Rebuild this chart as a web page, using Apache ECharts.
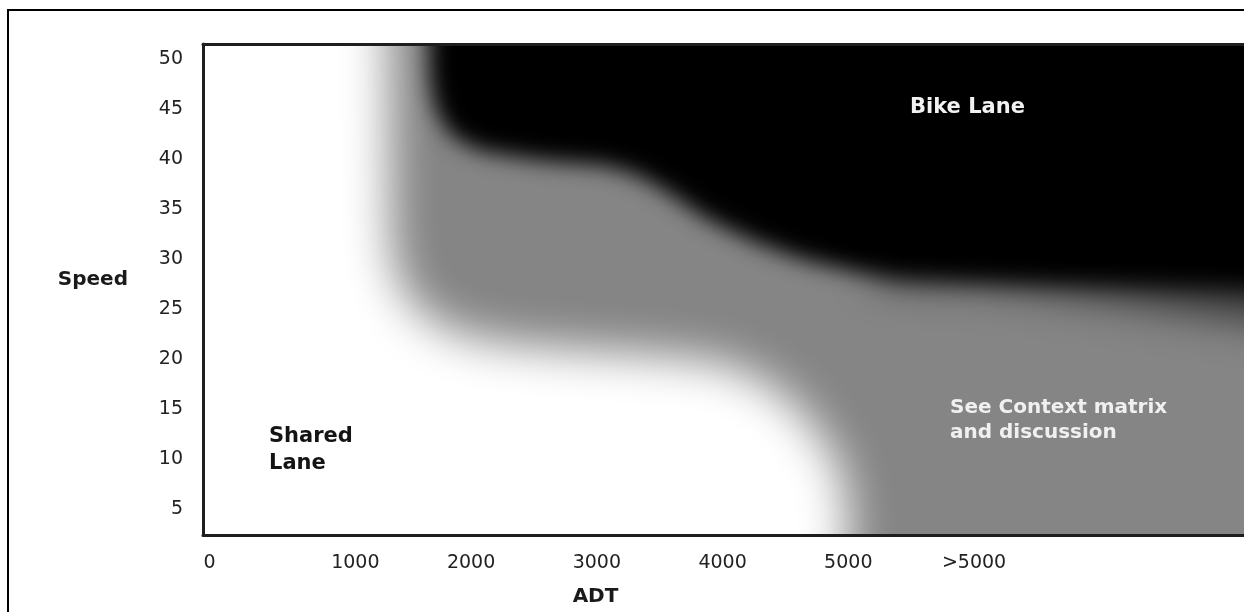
<!DOCTYPE html>
<html><head><meta charset="utf-8">
<script src="https://cdn.jsdelivr.net/npm/echarts@6/dist/echarts.min.js"></script>
<style>html,body{margin:0;padding:0;background:#fff}#c{width:1244px;height:612px}</style>
</head><body><div id="c"></div>
<script>
// Axis ticks
const xTickValues = [0, 1000, 2000, 3000, 4000, 5000, 6000];
const xTickLabels = ['0', '1000', '2000', '3000', '4000', '5000', '>5000'];
const yTickValues = [5, 10, 15, 20, 25, 30, 35, 40, 45, 50];

// Zone boundaries: [ADT, speed]
// mid-gray zone ("See Context matrix"): everything right/above the shared-lane edge
const grayZone = [
  [1351, 60], [1351, 51.5], [1367, 31.9], [1415, 28.4], [1510, 26.1], [1669, 24.1],
  [1906, 22.6], [2224, 21.7], [2699, 21.1], [3413, 20.5], [3969, 19.7], [4286, 18.1],
  [4540, 15.9], [4750, 12.9], [4927, 9.4], [4990, 5.9], [5006, 1.9], [5006, -5],
  [10000, -5], [10000, 60]
];
// black zone ("Bike Lane")
const blackZone = [
  [1669, 60], [1669, 51.5], [1677, 47.9], [1724, 44.9], [1843, 42.4], [2065, 40.9],
  [2541, 39.9], [3072, 39.3], [3334, 38.3], [3596, 36.4], [3866, 34.1], [4262, 31.7],
  [4659, 29.9], [5079, 28.7], [5396, 28.2], [6189, 27.8], [6982, 27.5], [8100, 27.1],
  [10000, 26.5], [10000, 60]
];
// darker fringe below the bike-lane zone on the right
const darkFringe = [
  [5237, 31.9], [8568, 31.9], [8568, 23.7], [8100, 24.1], [6982, 26.1], [6030, 27.5], [5237, 28.1]
];

const zoneColors = { gray: '#858585', black: '#000000', fringe: 'rgba(0,0,0,0.6)' };

const chart = echarts.init(document.getElementById('c'), null, { renderer: 'canvas', devicePixelRatio: 1 });
const OFF = 5000;
function zone(name, pts, color, blur) {
  return {
    type: 'custom', name: name, silent: true, clip: true, z: 2,
    data: [[0, 10]],
    renderItem: function (params, api) {
      return {
        type: 'polygon',
        x: OFF,
        shape: { points: pts.map(function (p) { return api.coord(p); }), smooth: 0.15 },
        style: { fill: '#000', shadowColor: color, shadowBlur: blur, shadowOffsetX: -OFF, shadowOffsetY: 0 }
      };
    }
  };
}
const FONT = 'DejaVu Sans';
const lineStyle = { color: '#1e1e1e', width: 3 };
const lblStyle = { fontFamily: FONT, fontSize: 19, color: '#222' };
chart.setOption({
  animation: false,
  backgroundColor: '#fff',
  grid: { left: 203, top: 44, right: -3, bottom: 77 },
  xAxis: [{
    type: 'value', min: -132, max: 8147, z: 10,
    axisLine: { show: true, onZero: false, lineStyle: lineStyle },
    axisTick: { show: false }, splitLine: { show: false },
    axisLabel: {
      customValues: xTickValues, margin: 19,
      color: '#222', fontFamily: FONT, fontSize: 19,
      rich: {
        l: Object.assign({ padding: [0, 20, 0, 0] }, lblStyle),
        r: Object.assign({ padding: [0, 0, 0, 20] }, lblStyle),
        n: lblStyle
      },
      formatter: function (v) {
        const i = xTickValues.indexOf(v);
        if (i < 0) return '';
        const key = i === 0 ? 'l' : (i === 1 ? 'r' : 'n');
        return '{' + key + '|' + xTickLabels[i] + '}';
      }
    },
    name: 'ADT', nameLocation: 'middle', nameGap: 52,
    nameTextStyle: { fontFamily: FONT, fontWeight: 'bold', fontSize: 20, color: '#1a1a1a', padding: [0, 256, 0, 0] }
  }, {
    type: 'value', position: 'top', min: -132, max: 8147, z: 10,
    axisLine: { show: true, onZero: false, lineStyle: lineStyle },
    axisTick: { show: false }, axisLabel: { show: false }, splitLine: { show: false }
  }],
  yAxis: {
    type: 'value', min: 2.4, max: 51.5, z: 10,
    axisLine: { show: true, onZero: false, lineStyle: lineStyle },
    axisTick: { show: false }, splitLine: { show: false },
    axisLabel: { customValues: yTickValues, margin: 20, color: '#222', fontFamily: FONT, fontSize: 19 },
    name: 'Speed', nameLocation: 'middle', nameRotate: 0, nameGap: 75,
    nameTextStyle: { fontFamily: FONT, fontWeight: 'bold', fontSize: 20, color: '#1a1a1a', align: 'right', verticalAlign: 'bottom' }
  },
  graphic: [
    { type: 'line', shape: { x1: 8, y1: 10, x2: 8, y2: 612 }, style: { stroke: '#000', lineWidth: 2 }, z: 100 },
    { type: 'line', shape: { x1: 7, y1: 10, x2: 1244, y2: 10 }, style: { stroke: '#000', lineWidth: 2 }, z: 100 },
    { type: 'text', x: 910, y: 108, z: 100, style: { text: 'Bike Lane', fill: '#f2f2f2', font: 'bold 21px "DejaVu Sans"', textVerticalAlign: 'middle' } },
    { type: 'text', x: 950, y: 420, z: 100, style: { text: 'See Context matrix\nand discussion', fill: '#f0f0f0', font: 'bold 20px "DejaVu Sans"', lineHeight: 25, textVerticalAlign: 'middle' } },
    { type: 'text', x: 269, y: 450, z: 100, style: { text: 'Shared\nLane', fill: '#141414', font: 'bold 21px "DejaVu Sans"', lineHeight: 27, textVerticalAlign: 'middle' } }
  ],
  series: [
    zone('See Context matrix', grayZone, zoneColors.gray, 46),
    zone('Bike Lane', blackZone, zoneColors.black, 22),
    zone('Bike Lane fringe', darkFringe, zoneColors.fringe, 40)
  ]
});
</script></body></html>
